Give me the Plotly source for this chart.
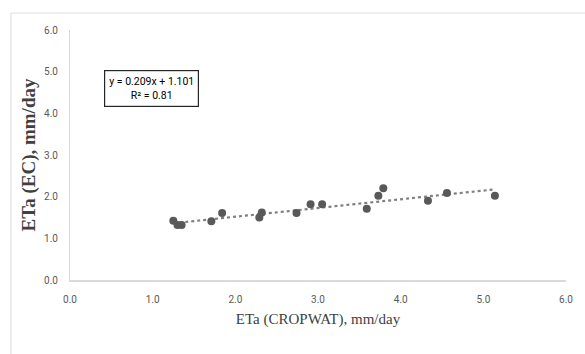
import plotly.graph_objects as go

# Data
eta_cropwat = [1.25, 1.30, 1.35, 1.71, 1.84, 2.29, 2.32, 2.74, 2.91, 3.05, 3.59, 3.73, 3.79, 4.33, 4.56, 5.14]
eta_ec      = [1.42, 1.32, 1.32, 1.41, 1.61, 1.50, 1.62, 1.61, 1.82, 1.82, 1.71, 2.02, 2.20, 1.90, 2.09, 2.02]
slope = 0.209
intercept = 1.101
r2 = 0.81
tick_vals = [0, 1, 2, 3, 4, 5, 6]
tick_text = ["0.0", "1.0", "2.0", "3.0", "4.0", "5.0", "6.0"]

trend_x = [min(eta_cropwat), max(eta_cropwat)]
trend_y = [slope * v + intercept for v in trend_x]

fig = go.Figure()
fig.add_trace(go.Scatter(
    x=trend_x, y=trend_y, mode="lines",
    line=dict(color="#808080", width=2.2, dash="dot"),
    hoverinfo="skip", showlegend=False,
))
fig.add_trace(go.Scatter(
    x=eta_cropwat, y=eta_ec, mode="markers",
    marker=dict(color="#595959", size=8),
    showlegend=False,
))

tick_font = dict(family="Liberation Sans Narrow, Roboto, sans-serif", size=10, color="#595959")
xtitle_font = dict(family="Liberation Serif, Times New Roman, serif", size=15, color="#404040")
ytitle_font = dict(family="Liberation Serif, Times New Roman, serif", size=19, color="#404040", weight="bold")

border = dict(color="#e0e0e0", width=1.2)
fig.update_layout(
    width=585, height=354,
    margin=dict(l=70, r=12, t=30, b=74),
    paper_bgcolor="white", plot_bgcolor="white",
    xaxis=dict(
        range=[0, 6], tickvals=tick_vals, ticktext=tick_text,
        showgrid=False, zeroline=False, showline=True, linecolor="#d9d9d9", linewidth=1.5,
        ticks="outside", ticklen=9, tickcolor="rgba(0,0,0,0)",
        tickfont=tick_font,
        title=dict(text="ETa (CROPWAT), mm/day", font=xtitle_font, standoff=10),
    ),
    yaxis=dict(
        range=[0, 6], tickvals=tick_vals, ticktext=tick_text,
        showgrid=False, zeroline=False, showline=True, linecolor="#d9d9d9", linewidth=1,
        ticks="outside", ticklen=9, tickcolor="rgba(0,0,0,0)",
        tickfont=tick_font,
        title=dict(text="ETa (EC), mm/day", font=ytitle_font, standoff=3),
    ),
    annotations=[dict(
        x=0.98, y=4.6, xref="x", yref="y",
        text=f"y = {slope}x + {intercept}<br>R² = {r2}",
        showarrow=False, align="center",
        font=dict(family="Liberation Sans Narrow, Roboto, sans-serif", size=10.5, color="#000000"),
        bordercolor="#262626", borderwidth=1.2, borderpad=4, bgcolor="white",
    )],
    shapes=[
        dict(type="line", xref="paper", yref="paper",
             x0=-60/503, x1=1.2, y0=1 + 17/250, y1=1 + 17/250, line=border, layer="below"),
        dict(type="line", xref="paper", yref="paper",
             x0=-60/503, x1=-60/503, y0=1 + 17/250, y1=-0.6, line=border, layer="below"),
    ],
)

fig.write_html("out.html")
